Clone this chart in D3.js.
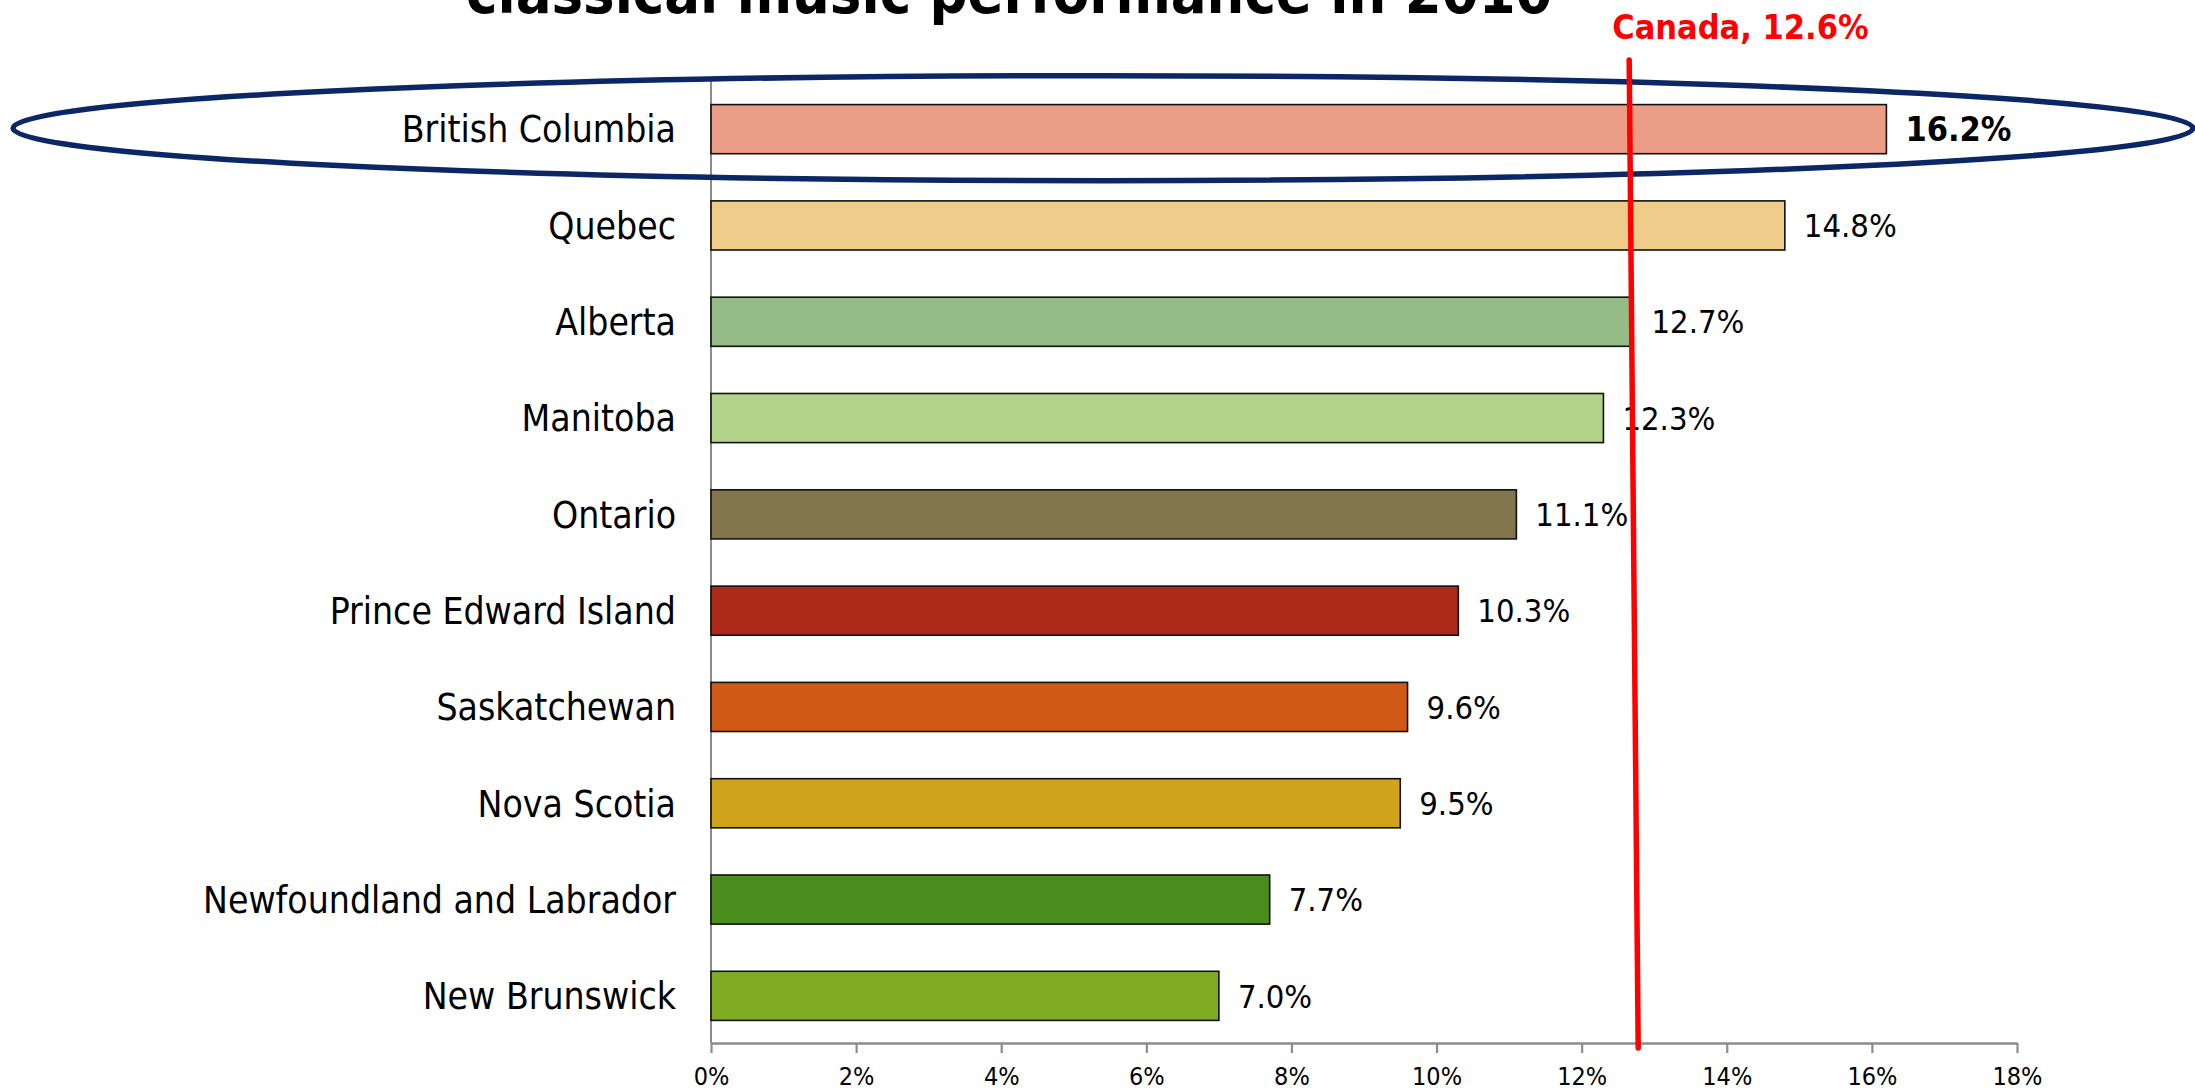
<!DOCTYPE html>
<html>
<head>
<meta charset="utf-8">
<script src="https://cdn.jsdelivr.net/npm/d3@7"></script>
<style>
  html, body { margin: 0; padding: 0; background: #ffffff; }
  svg { display: block; }
</style>
</head>
<body>
<svg id="chart" width="2195" height="1091"></svg>
<script>
// ---------- data ----------
const titleText = "classical music performance in 2010";
const provinces = [
  "British Columbia", "Quebec", "Alberta", "Manitoba", "Ontario",
  "Prince Edward Island", "Saskatchewan", "Nova Scotia",
  "Newfoundland and Labrador", "New Brunswick"
];
const shares = [16.2, 14.8, 12.7, 12.3, 11.1, 10.3, 9.6, 9.5, 7.7, 7.0];
const barColors = [
  "#EC9D87", "#EDCD89", "#95BC87", "#B3D38A", "#82774C",
  "#AD2918", "#D05A15", "#CFA31C", "#4A8C1E", "#80AC24"
];
const highlighted = "British Columbia";
const canadaShare = 12.6;
const canadaLabel = "Canada, 12.6%";
const tickValues = [0, 2, 4, 6, 8, 10, 12, 14, 16, 18];
const tickLabels = ["0%", "2%", "4%", "6%", "8%", "10%", "12%", "14%", "16%", "18%"];

// ---------- layout ----------
const svg = d3.select("#chart");
const FONT = "'DejaVu Sans Condensed', 'DejaVu Sans', sans-serif";
const NARROW = "'Liberation Sans Narrow', 'DejaVu Sans Condensed', sans-serif";

const x = d3.scaleLinear().domain([0, 18]).range([711, 2017]);
const y = d3.scaleBand().domain(provinces).range([81, 1044])
  .paddingInner(0.49).paddingOuter(0.245);
const axisY = 1043;

const rows = provinces.map((p, i) => ({ name: p, value: shares[i], color: barColors[i] }));

// title (second line of a title cut off at the top, as in the original)
svg.append("text")
  .attr("x", 466).attr("y", 13)
  .attr("font-family", FONT).attr("font-weight", "bold")
  .attr("font-size", 59).attr("fill", "#000")
  .text(titleText);

// vertical axis line
svg.append("line")
  .attr("x1", x(0)).attr("x2", x(0))
  .attr("y1", 80).attr("y2", axisY)
  .attr("stroke", "#8c8c8c").attr("stroke-width", 2);

// bars
svg.append("g").selectAll("rect").data(rows).join("rect")
  .attr("x", x(0))
  .attr("y", d => y(d.name))
  .attr("width", d => x(d.value) - x(0))
  .attr("height", y.bandwidth())
  .attr("fill", d => d.color)
  .attr("stroke", "#111").attr("stroke-width", 1.6);

// category labels
svg.append("g").selectAll("text").data(rows).join("text")
  .attr("x", 676)
  .attr("y", d => y(d.name) + y.bandwidth() / 2)
  .attr("dy", "0.36em")
  .attr("text-anchor", "end")
  .attr("font-family", FONT).attr("font-size", 37).attr("fill", "#000")
  .text(d => d.name);

// value labels
svg.append("g").selectAll("text").data(rows).join("text")
  .attr("x", d => x(d.value) + 19)
  .attr("y", d => y(d.name) + y.bandwidth() / 2)
  .attr("dy", "0.36em")
  .attr("font-family", FONT)
  .attr("font-weight", d => d.name === highlighted ? "bold" : "normal")
  .attr("font-size", d => d.name === highlighted ? 34 : 32.5)
  .attr("fill", "#000")
  .text(d => d.value.toFixed(1) + "%");

// x axis
const xAxis = d3.axisBottom(x)
  .tickValues(tickValues)
  .tickFormat((d, i) => tickLabels[i])
  .tickSize(10).tickSizeOuter(0).tickPadding(14);
const gx = svg.append("g").attr("transform", `translate(0,${axisY})`).call(xAxis);
gx.select(".domain").attr("stroke", "#8c8c8c").attr("stroke-width", 2.6);
gx.selectAll(".tick line").attr("stroke", "#8c8c8c").attr("stroke-width", 2.2);
gx.selectAll(".tick text")
  .attr("font-family", NARROW).attr("font-size", 25).attr("fill", "#000");

// highlight ellipse around the first row
const hl = y(highlighted) + y.bandwidth() / 2;
svg.append("ellipse")
  .attr("cx", 1103).attr("cy", hl - 1)
  .attr("rx", 1090).attr("ry", 52.5)
  .attr("fill", "none")
  .attr("stroke", "#0B2765").attr("stroke-width", 5.5);

// Canada reference line (hand-drawn, slightly slanted)
svg.append("line")
  .attr("x1", x(canadaShare) + 4).attr("y1", 60)
  .attr("x2", x(canadaShare) + 13).attr("y2", 1048)
  .attr("stroke", "#FF0000").attr("stroke-width", 5.5)
  .attr("stroke-linecap", "round");

svg.append("text")
  .attr("x", x(canadaShare) - 13).attr("y", 39)
  .attr("font-family", FONT).attr("font-weight", "bold")
  .attr("font-size", 34).attr("fill", "#FF0000")
  .text(canadaLabel);
</script>
</body>
</html>
